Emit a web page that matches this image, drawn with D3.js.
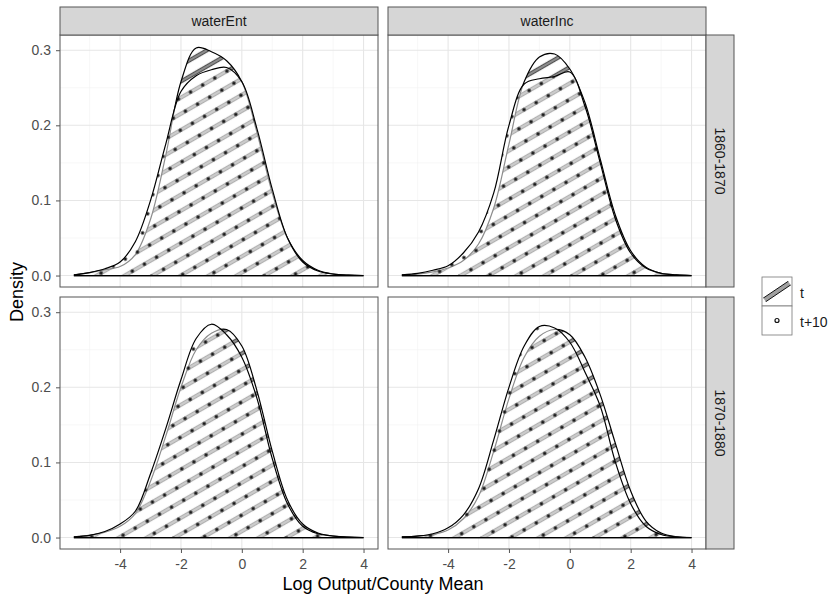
<!DOCTYPE html>
<html>
<head>
<meta charset="utf-8">
<script src="https://cdn.jsdelivr.net/npm/d3@7"></script>
<style>body{margin:0;background:#fff;}</style>
</head>
<body>
<script>
// Data: density estimates at the x grid below
const xGrid = [-5.5,-5,-4.5,-4,-3.5,-3,-2.5,-2,-1.5,-1,-0.5,0,0.5,1,1.5,2,2.5,3,3.5,4];
const measures = ["waterEnt", "waterInc"];
const periods = ["1860-1870", "1870-1880"];
const groups = ["t", "t+10"];

const entEarlyT   = [0.001,0.004,0.008,0.012,0.028,0.075,0.16,0.258,0.303,0.298,0.286,0.258,0.19,0.11,0.05,0.02,0.007,0.002,0.0005,0];
const entEarlyT10 = [0.001,0.004,0.009,0.018,0.045,0.10,0.175,0.245,0.266,0.274,0.277,0.258,0.195,0.115,0.05,0.018,0.006,0.002,0.0005,0];
const incEarlyT   = [0.001,0.002,0.005,0.010,0.020,0.042,0.09,0.175,0.258,0.291,0.295,0.275,0.23,0.155,0.08,0.033,0.011,0.003,0.001,0];
const incEarlyT10 = [0.001,0.003,0.007,0.013,0.030,0.058,0.11,0.20,0.255,0.262,0.265,0.271,0.225,0.15,0.075,0.03,0.01,0.003,0.001,0];
const entLateT    = [0.001,0.003,0.007,0.015,0.032,0.075,0.135,0.20,0.25,0.272,0.277,0.255,0.195,0.115,0.05,0.018,0.006,0.002,0.0005,0];
const entLateT10  = [0.001,0.003,0.008,0.018,0.035,0.085,0.145,0.21,0.265,0.284,0.27,0.24,0.185,0.105,0.045,0.015,0.005,0.002,0.0005,0];
const incLateT    = [0.001,0.002,0.004,0.010,0.025,0.055,0.115,0.185,0.24,0.268,0.277,0.27,0.24,0.19,0.125,0.062,0.022,0.006,0.001,0];
const incLateT10  = [0.001,0.002,0.005,0.013,0.030,0.065,0.13,0.20,0.255,0.281,0.279,0.26,0.22,0.175,0.10,0.045,0.015,0.004,0.001,0];

const xTicks = [-4, -2, 0, 2, 4];
const xMinor = [-5, -3, -1, 1, 3];
const yTicks = [0, 0.1, 0.2, 0.3];
const yMinor = [0.05, 0.15, 0.25];

const panels = [
  {col: 0, row: 0, t: entEarlyT, t10: entEarlyT10},
  {col: 1, row: 0, t: incEarlyT, t10: incEarlyT10},
  {col: 0, row: 1, t: entLateT, t10: entLateT10},
  {col: 1, row: 1, t: incLateT, t10: incLateT10}
];

// Layout
const width = 835, height = 597;
const colX = [60, 388], panelW = 318;
const rowY = [35, 297], panelH = 252;
const stripH = 28, stripW = 28;
const font = "'Liberation Sans', Arial, sans-serif";

const svg = d3.select("body").append("svg")
  .attr("width", width).attr("height", height)
  .style("font-family", font);

// Patterns
const defs = svg.append("defs");
const stripe = defs.append("pattern")
  .attr("id", "stripe").attr("patternUnits", "userSpaceOnUse")
  .attr("width", 14).attr("height", 14)
  .attr("patternTransform", "rotate(-30)");
stripe.append("rect").attr("x", 0).attr("y", 5.4).attr("width", 14).attr("height", 3.2).attr("fill", "#8c8c8c");
stripe.append("path").attr("d", "M0,5.4H14M0,8.6H14").attr("stroke", "#111").attr("stroke-width", 0.7);

const dots = defs.append("pattern")
  .attr("id", "dots").attr("patternUnits", "userSpaceOnUse")
  .attr("width", 14).attr("height", 14)
  .attr("patternTransform", "rotate(-30)");
dots.append("circle").attr("cx", 7).attr("cy", 7).attr("r", 1.8).attr("fill", "#1a1a1a");

const xDom = [-5.975, 4.475];
const yDom = [-0.01525, 0.32025];

panels.forEach((p, i) => {
  const x0 = colX[p.col], y0 = rowY[p.row];
  const x = d3.scaleLinear().domain(xDom).range([x0, x0 + panelW]);
  const y = d3.scaleLinear().domain(yDom).range([y0 + panelH, y0]);
  const g = svg.append("g");

  const clipId = "clip" + i;
  defs.append("clipPath").attr("id", clipId)
    .append("rect").attr("x", x0).attr("y", y0).attr("width", panelW).attr("height", panelH);

  g.append("rect").attr("x", x0).attr("y", y0).attr("width", panelW).attr("height", panelH).attr("fill", "#fff");

  // grid
  g.selectAll(".vmin").data(xMinor).join("line")
    .attr("x1", d => x(d)).attr("x2", d => x(d)).attr("y1", y0).attr("y2", y0 + panelH)
    .attr("stroke", "#f2f2f2").attr("stroke-width", 0.6);
  g.selectAll(".hmin").data(yMinor).join("line")
    .attr("y1", d => y(d)).attr("y2", d => y(d)).attr("x1", x0).attr("x2", x0 + panelW)
    .attr("stroke", "#f2f2f2").attr("stroke-width", 0.6);
  g.selectAll(".vmaj").data(xTicks).join("line")
    .attr("x1", d => x(d)).attr("x2", d => x(d)).attr("y1", y0).attr("y2", y0 + panelH)
    .attr("stroke", "#e6e6e6").attr("stroke-width", 1.1);
  g.selectAll(".hmaj").data(yTicks).join("line")
    .attr("y1", d => y(d)).attr("y2", d => y(d)).attr("x1", x0).attr("x2", x0 + panelW)
    .attr("stroke", "#e6e6e6").attr("stroke-width", 1.1);

  const area = d3.area()
    .x((d, j) => x(xGrid[j]))
    .y0(y(0))
    .y1(d => y(d))
    .curve(d3.curveCatmullRom.alpha(0.5));

  const plot = g.append("g").attr("clip-path", `url(#${clipId})`);
  // t : white fill with stripes
  plot.append("path").attr("d", area(p.t)).attr("fill", "#fff");
  plot.append("path").attr("d", area(p.t)).attr("fill", "url(#stripe)")
    .attr("stroke", "#000").attr("stroke-width", 1.2);
  // t+10 : translucent fill with dots
  plot.append("path").attr("d", area(p.t10)).attr("fill", "#fff").attr("fill-opacity", 0.55);
  plot.append("path").attr("d", area(p.t10)).attr("fill", "url(#dots)")
    .attr("stroke", "#000").attr("stroke-width", 1.2);

  // border
  g.append("rect").attr("x", x0).attr("y", y0).attr("width", panelW).attr("height", panelH)
    .attr("fill", "none").attr("stroke", "#555").attr("stroke-width", 1);

  // axes
  if (p.col === 0) {
    const ax = g.append("g").attr("transform", `translate(${x0},0)`)
      .call(d3.axisLeft(y).tickValues(yTicks).tickFormat(d3.format(".1f")).tickSize(4).tickPadding(5));
    ax.select(".domain").remove();
    ax.selectAll("line").attr("stroke", "#555");
    ax.selectAll("text").attr("fill", "#4d4d4d").style("font-size", "14px").style("font-family", font);
  }
  if (p.row === 1) {
    const ax = g.append("g").attr("transform", `translate(0,${y0 + panelH})`)
      .call(d3.axisBottom(x).tickValues(xTicks).tickFormat(d => String(d)).tickSize(4).tickPadding(6));
    ax.select(".domain").remove();
    ax.selectAll("line").attr("stroke", "#555");
    ax.selectAll("text").attr("fill", "#4d4d4d").style("font-size", "14px").style("font-family", font);
  }
});

// top strips
measures.forEach((m, c) => {
  svg.append("rect").attr("x", colX[c]).attr("y", rowY[0] - stripH).attr("width", panelW).attr("height", stripH)
    .attr("fill", "#d6d6d6").attr("stroke", "#555");
  svg.append("text").attr("x", colX[c] + panelW / 2).attr("y", rowY[0] - stripH / 2)
    .attr("text-anchor", "middle").attr("dominant-baseline", "central")
    .attr("fill", "#1a1a1a").style("font-size", "14px").text(m);
});

// right strips
periods.forEach((pr, r) => {
  const sx = colX[1] + panelW;
  svg.append("rect").attr("x", sx).attr("y", rowY[r]).attr("width", stripW).attr("height", panelH)
    .attr("fill", "#d6d6d6").attr("stroke", "#555");
  const cx = sx + stripW / 2, cy = rowY[r] + panelH / 2;
  svg.append("text").attr("x", cx).attr("y", cy)
    .attr("transform", `rotate(90,${cx},${cy})`)
    .attr("text-anchor", "middle").attr("dominant-baseline", "central")
    .attr("fill", "#1a1a1a").style("font-size", "14px").text(pr);
});

// axis titles
svg.append("text").attr("x", (colX[0] + colX[1] + panelW) / 2).attr("y", 590)
  .attr("text-anchor", "middle").attr("fill", "#000").style("font-size", "18px")
  .text("Log Output/County Mean");
svg.append("text").attr("transform", `translate(23,${(rowY[0] + rowY[1] + panelH) / 2}) rotate(-90)`)
  .attr("text-anchor", "middle").attr("fill", "#000").style("font-size", "18px")
  .text("Density");

// legend
const lx = 762, ly = 277, key = 29;
const leg = svg.append("g");
defs.append("clipPath").attr("id", "keyclip")
  .append("rect").attr("x", lx).attr("y", ly).attr("width", 30).attr("height", key);
groups.forEach((gname, i) => {
  const ky = ly + i * key;
  leg.append("rect").attr("x", lx).attr("y", ky).attr("width", 30).attr("height", key)
    .attr("fill", "#fff").attr("stroke", "#777").attr("stroke-width", 0.8);
  leg.append("text").attr("x", lx + 38).attr("y", ky + key / 2 + 1)
    .attr("dominant-baseline", "central").attr("fill", "#1a1a1a").style("font-size", "14px").text(gname);
});
// key glyphs
leg.append("rect").attr("x", lx - 5).attr("y", ly + key / 2 - 2.2).attr("width", 40).attr("height", 4.4)
  .attr("transform", `rotate(-34,${lx + 15},${ly + key / 2})`)
  .attr("fill", "#a0a0a0").attr("stroke", "#111").attr("stroke-width", 0.9)
  .attr("clip-path", "url(#keyclip)");
leg.append("circle").attr("cx", lx + 15).attr("cy", ly + key * 1.5).attr("r", 2)
  .attr("fill", "none").attr("stroke", "#111").attr("stroke-width", 1.2);
</script>
</body>
</html>
